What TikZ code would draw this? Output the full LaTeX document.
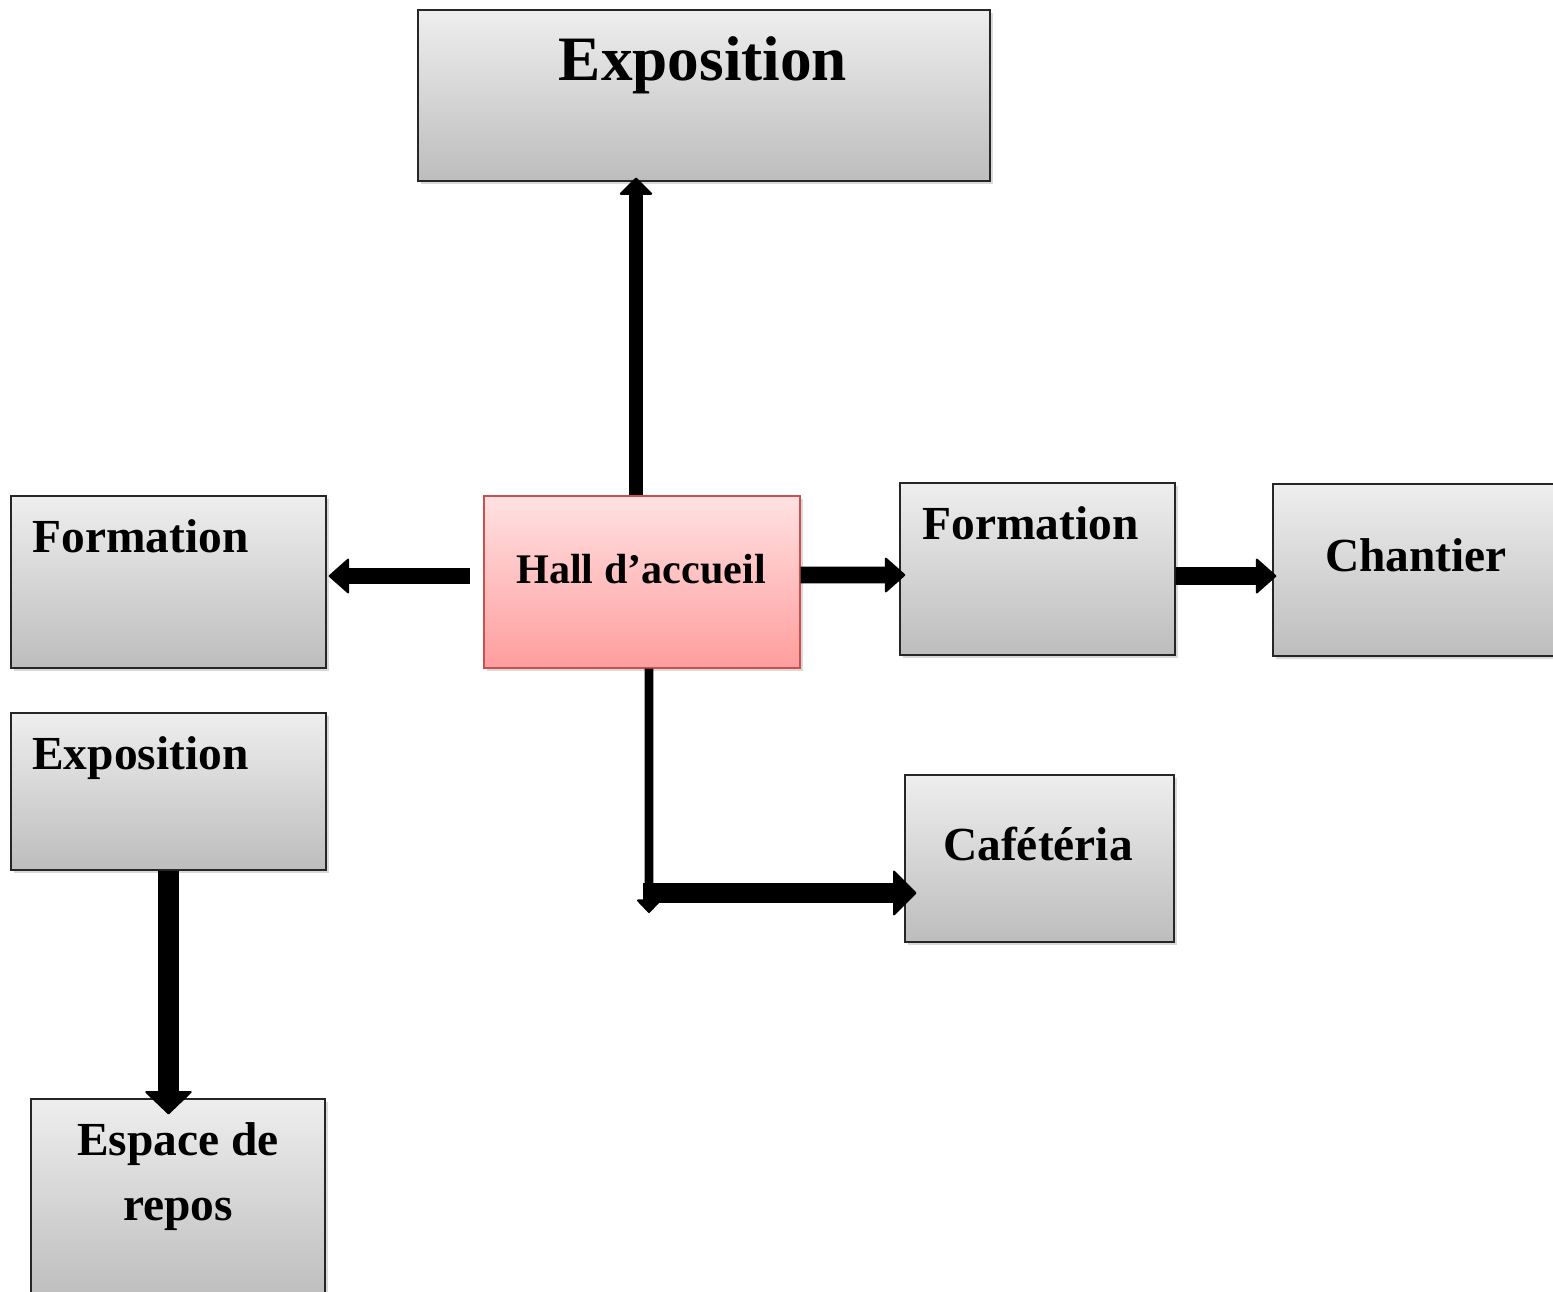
\documentclass[tikz,border=0pt]{standalone}
\usepackage{fontspec}
\setmainfont{Liberation Serif}
\usepackage{tikz}
\usetikzlibrary{arrows.meta,shadows}
\definecolor{boxtop}{HTML}{EEEEEE}
\definecolor{boxbot}{HTML}{BDBDBD}
\definecolor{halltop}{HTML}{FFE1E2}
\definecolor{hallbot}{HTML}{FF9D9D}
\definecolor{hallline}{HTML}{C8504D}

\begin{document}
\begin{tikzpicture}[x=0.02cm, y=-0.02cm,
    box/.style={rectangle, draw=black!85, line width=0.8pt, inner sep=0pt,
                top color=boxtop, bottom color=boxbot,
                drop shadow={shadow xshift=1.5pt, shadow yshift=-1.5pt, opacity=0.3}},
    hallbox/.style={box, draw=hallline, top color=halltop, bottom color=hallbot},
    txt/.style={inner sep=0pt, font=\fontsize{27}{37}\selectfont\bfseries},
    arr/.style args={#1/#2/#3}{line width=#1,
                -{Triangle[width=#2, length=#3, line width=1.2pt, round]}}]
  \useasboundingbox (0,0) rectangle (1553,1292);
  % the rooms
  \node[box, minimum width=11.44cm, minimum height=3.42cm] (expoTop) at (704,95.5) {};
  \node[hallbox, minimum width=6.32cm, minimum height=3.44cm] (hall) at (642,582) {};
  \node[box, minimum width=6.30cm, minimum height=3.44cm] (formL) at (168.5,582) {};
  \node[box, minimum width=5.50cm, minimum height=3.44cm] (formR) at (1037.5,569) {};
  \node[box, minimum width=5.74cm, minimum height=3.44cm] (chantier) at (1416.5,570) {};
  \node[box, minimum width=6.30cm, minimum height=3.14cm] (expoL) at (168.5,791.5) {};
  \node[box, minimum width=5.38cm, minimum height=3.34cm] (cafe) at (1039.5,858.5) {};
  \node[box, minimum width=5.88cm, minimum height=4.02cm] (espace) at (178,1199.5) {};
  % their names
  \node[txt, font=\fontsize{36}{43}\selectfont\bfseries, anchor=base] (expoTopTxt) at (703,80) {Exposition};
  \node[txt, font=\fontsize{24}{29}\selectfont\bfseries, anchor=base] (hallTxt) at (641,583) {Hall d’accueil};
  \node[txt, anchor=base west] (formLTxt) at (32,552) {Formation};
  \node[txt, anchor=base west] (formRTxt) at (922,539) {Formation};
  \node[txt, anchor=base] (chantierTxt) at (1416,571) {Chantier};
  \node[txt, anchor=base west] (expoLTxt) at (32,769) {Exposition};
  \node[txt, anchor=base] (cafeTxt) at (1038,860) {Cafétéria};
  \node[txt, anchor=north, align=center] (espaceTxt) at (178,1122) {Espace de\\repos};
  % free ends of the connectors
  \coordinate (hallTail) at (470,576);
  \coordinate (bend) at (643,893);
  \coordinate (drop) at (649,913);
  % connectors
  \draw[arr=7.9pt/20pt/10pt, shorten >=-0.08cm] ([xshift=-0.12cm]hall.north) -- ([xshift=-0.12cm]hall.north |- expoTop.south);
  \draw[arr=9.6pt/21pt/12pt, shorten >=0.04cm] (hallTail) -- (formL.east |- hallTail);
  \draw[arr=9.6pt/21pt/12pt, shorten >=-0.12cm] ([yshift=0.14cm]hall.east) -- (formR.west |- 0,575);
  \draw[arr=10pt/21pt/12pt, shorten >=-0.08cm] ([yshift=-0.14cm]formR.east) -- (chantier.west |- 0,576);
  \draw[arr=5.1pt/15pt/8pt] ([xshift=0.14cm]hall.south) -- (drop);
  \draw[arr=11.9pt/27pt/13.5pt, shorten >=-0.24cm] (bend) -- (cafe.west |- bend);
  \draw[arr=11.9pt/28pt/13.5pt, shorten >=-0.32cm] (expoL.south) -- (expoL.south |- espace.north);
\end{tikzpicture}
\end{document}
